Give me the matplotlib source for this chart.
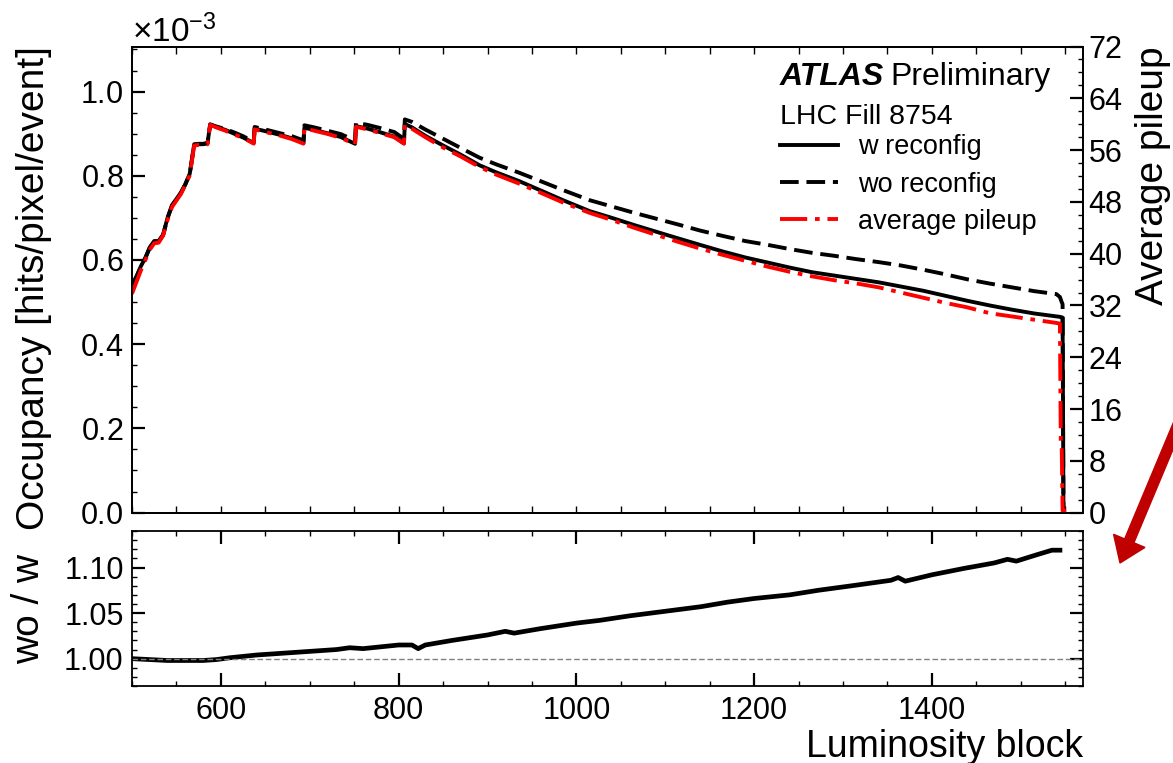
import numpy as np
import matplotlib
matplotlib.use("Agg")
import matplotlib.pyplot as plt
from matplotlib.ticker import MultipleLocator, ScalarFormatter, FormatStrFormatter, FixedLocator
from matplotlib.patches import FancyArrow
from matplotlib.transforms import IdentityTransform

plt.rcParams['font.family'] = ['Liberation Sans', 'DejaVu Sans']
plt.rcParams['mathtext.fontset'] = 'custom'
plt.rcParams['mathtext.rm'] = 'Liberation Sans'
plt.rcParams['mathtext.it'] = 'Liberation Sans:italic'
plt.rcParams['mathtext.bf'] = 'Liberation Sans:bold'

# ---------------- data ----------------
lumi_block = [500, 505, 510, 515, 520, 525, 530, 535, 540, 545, 550, 555, 560, 565,
              570, 575, 580, 585, 588, 595, 605, 615, 625, 637, 638, 650, 665, 680,
              693, 694, 705, 720, 735, 751, 752, 765, 780, 795, 806, 807, 815, 830,
              850, 870, 891, 910, 936, 960, 985, 1015, 1040, 1065, 1090, 1115, 1139,
              1165, 1190, 1215, 1240, 1265, 1290, 1315, 1340, 1365, 1390, 1415, 1440,
              1465, 1490, 1515, 1540, 1544, 1545, 1546, 1547, 1548, 1551]

# occupancy in units of 1e-3 hits/pixel/event
occ_w_reconfig = [0.540, 0.560, 0.585, 0.605, 0.630, 0.645, 0.645, 0.660, 0.700, 0.730,
                  0.745, 0.760, 0.780, 0.805, 0.875, 0.876, 0.876, 0.878, 0.922, 0.916,
                  0.909, 0.900, 0.891, 0.878, 0.912, 0.906, 0.898, 0.889, 0.878, 0.914,
                  0.909, 0.901, 0.892, 0.876, 0.918, 0.912, 0.903, 0.893, 0.877, 0.923,
                  0.915, 0.895, 0.872, 0.850, 0.825, 0.808, 0.787, 0.765, 0.742, 0.716,
                  0.700, 0.683, 0.667, 0.651, 0.636, 0.620, 0.606, 0.594, 0.582, 0.571,
                  0.563, 0.555, 0.547, 0.537, 0.527, 0.515, 0.503, 0.492, 0.482, 0.473,
                  0.466, 0.465, 0.464, 0.464, 0.463, 0.0, np.nan]

occ_wo_reconfig = [0.540, 0.560, 0.584, 0.604, 0.629, 0.644, 0.644, 0.659, 0.699, 0.729,
                   0.744, 0.759, 0.779, 0.804, 0.874, 0.875, 0.875, 0.877, 0.922, 0.917,
                   0.911, 0.903, 0.894, 0.881, 0.916, 0.910, 0.902, 0.894, 0.884, 0.920,
                   0.915, 0.907, 0.899, 0.884, 0.926, 0.921, 0.913, 0.904, 0.888, 0.934,
                   0.928, 0.910, 0.888, 0.866, 0.843, 0.827, 0.807, 0.787, 0.766, 0.742,
                   0.727, 0.712, 0.698, 0.684, 0.670, 0.657, 0.645, 0.636, 0.626, 0.617,
                   0.610, 0.602, 0.595, 0.587, 0.577, 0.566, 0.554, 0.544, 0.535, 0.526,
                   0.519, 0.512, 0.506, 0.500, 0.495, 0.0, np.nan]

avg_pileup = [33.8, 35.6, 37.4, 39.0, 40.6, 41.6, 41.7, 42.8, 45.2, 47.2,
              48.2, 49.2, 50.6, 52.1, 56.7, 56.8, 56.8, 56.9, 59.9, 59.5,
              59.0, 58.4, 57.9, 57.0, 59.2, 58.8, 58.3, 57.7, 57.0, 59.4,
              59.0, 58.5, 57.9, 56.9, 59.6, 59.2, 58.6, 58.0, 57.0, 59.9,
              59.3, 58.0, 56.4, 55.0, 53.4, 52.2, 50.8, 49.4, 47.9, 46.3,
              45.2, 44.0, 42.9, 41.8, 40.8, 39.8, 38.9, 38.0, 37.2, 36.5,
              35.9, 35.4, 34.8, 34.0, 33.2, 32.4, 31.7, 30.8, 30.3, 29.8,
              29.3, 29.2, 10.6, 10.4, 0.3, 0.3, 0.3]

ratio_lb = [500, 520, 540, 560, 580, 595, 610, 640, 670, 700, 730, 745, 760, 800, 815,
            822, 830, 860, 900, 920, 930, 960, 1000, 1026, 1060, 1108, 1140, 1170, 1200,
            1240, 1272, 1310, 1354, 1362, 1370, 1400, 1436, 1470, 1485, 1495, 1518, 1535,
            1544]
ratio_wo_w = [1.000, 0.999, 0.998, 0.998, 0.998, 0.999, 1.001, 1.004, 1.006, 1.008,
              1.010, 1.012, 1.011, 1.015, 1.015, 1.011, 1.015, 1.020, 1.026, 1.030,
              1.028, 1.033, 1.039, 1.042, 1.047, 1.053, 1.057, 1.062, 1.066, 1.070,
              1.075, 1.080, 1.086, 1.089, 1.085, 1.092, 1.099, 1.105, 1.109, 1.107,
              1.114, 1.119, 1.119]

x_major_ticks = [600, 800, 1000, 1200, 1400]

# ---------------- figure ----------------
fig = plt.figure(figsize=(11.73, 7.63), dpi=100)
ax = fig.add_axes([0.1125, 0.3282, 0.8108, 0.6108])
rax = fig.add_axes([0.1125, 0.1009, 0.8108, 0.2031])
ax2 = ax.twinx()

lb = np.array(lumi_block, dtype=float)
lw = 2.8
h_w, = ax.plot(lb, np.array(occ_w_reconfig) * 1e-3, color='black', lw=lw,
               label='w reconfig')
h_wo, = ax.plot(lb, np.array(occ_wo_reconfig) * 1e-3, color='black', lw=lw,
                ls=(0, (4.8, 2.0)), label='wo reconfig')
h_mu, = ax2.plot(lb, avg_pileup, color='#ff0000', lw=lw,
                 ls=(0, (7.0, 2.0, 1.2, 2.0)), label='average pileup')

ax.set_xlim(500, 1570)
ax.set_ylim(0, 1.107e-3)
ax2.set_ylim(0, 72)

fmt = ScalarFormatter(useMathText=True)
fmt.set_powerlimits((0, 0))
ax.yaxis.set_major_formatter(fmt)
ax.yaxis.set_major_locator(MultipleLocator(0.2e-3))
ax.yaxis.set_minor_locator(MultipleLocator(0.05e-3))
ax.xaxis.set_major_locator(MultipleLocator(50))
ax.xaxis.set_minor_locator(MultipleLocator(50))
ax.tick_params(axis='x', which='both', direction='in', top=True, bottom=True,
               labelbottom=False, length=5, width=1.0)
ax.tick_params(axis='y', which='major', direction='in', left=True, right=False,
               length=9.5, width=1.6, labelsize=22, pad=6)
ax.tick_params(axis='y', which='minor', direction='in', left=True, right=False,
               length=3.5, width=1.0)
ax.yaxis.get_offset_text().set_fontsize(24)

ax2.yaxis.set_major_locator(MultipleLocator(8))
ax2.yaxis.set_minor_locator(MultipleLocator(2))
ax2.tick_params(axis='y', which='major', direction='in', length=9.5, width=1.6,
                labelsize=22, pad=4)
ax2.tick_params(axis='y', which='minor', direction='in', length=3.5, width=1.0)

for a in (ax, ax2, rax):
    for s in a.spines.values():
        s.set_linewidth(1.3)

ax.set_ylabel('Occupancy [hits/pixel/event]', fontsize=28, loc='top', labelpad=20)
ax2.set_ylabel('Average pileup', fontsize=28, loc='top', labelpad=9)

# text + legend
atlas = ax.text(0.681, 0.918, 'ATLAS', transform=ax.transAxes, fontsize=23,
                fontweight='bold', fontstyle='italic', ha='left', va='baseline')
ax.annotate('Preliminary', xy=(1, 0), xycoords=atlas, xytext=(5, 0),
            textcoords='offset points', fontsize=23, ha='left', va='bottom')
ax.text(0.681, 0.834, 'LHC Fill 8754', transform=ax.transAxes, fontsize=20.5,
        ha='left', va='baseline')
ax.legend(handles=[h_w, h_wo, h_mu], loc='upper left',
          bbox_to_anchor=(0.681, 0.812), frameon=False, fontsize=19.5,
          handlelength=2.15, handletextpad=0.75, labelspacing=0.42,
          borderpad=0, borderaxespad=0)

# ratio panel
rax.plot(ratio_lb, ratio_wo_w, color='black', lw=3.4)
rax.axhline(1.0, color='gray', lw=1.0, ls=(0, (4, 2)))
rax.set_xlim(500, 1570)
rax.set_ylim(0.97, 1.14)
rax.xaxis.set_major_locator(FixedLocator(x_major_ticks))
rax.xaxis.set_minor_locator(MultipleLocator(50))
rax.yaxis.set_major_locator(MultipleLocator(0.05))
rax.yaxis.set_minor_locator(MultipleLocator(0.01))
rax.yaxis.set_major_formatter(FormatStrFormatter('%.2f'))
rax.tick_params(axis='both', which='major', direction='in', top=True, right=True,
                length=9.5, width=1.6, labelsize=22)
rax.tick_params(axis='x', which='major', pad=7)
rax.tick_params(axis='y', which='major', pad=6)
rax.tick_params(axis='both', which='minor', direction='in', top=True, right=True,
                length=3.5, width=1.0)
rax.set_ylabel('wo / w', fontsize=28, labelpad=12)
rax.set_xlabel('Luminosity block', fontsize=27, loc='right', labelpad=2)

# red arrow outside the axes (pixel coordinates)
arrow = FancyArrow(1182, 763 - 415, -62, -(563 - 415), width=10, head_width=34,
                   head_length=24, length_includes_head=True, color='#c00000',
                   transform=IdentityTransform(), clip_on=False)
fig.add_artist(arrow)

fig.savefig('out.png', dpi=100)
